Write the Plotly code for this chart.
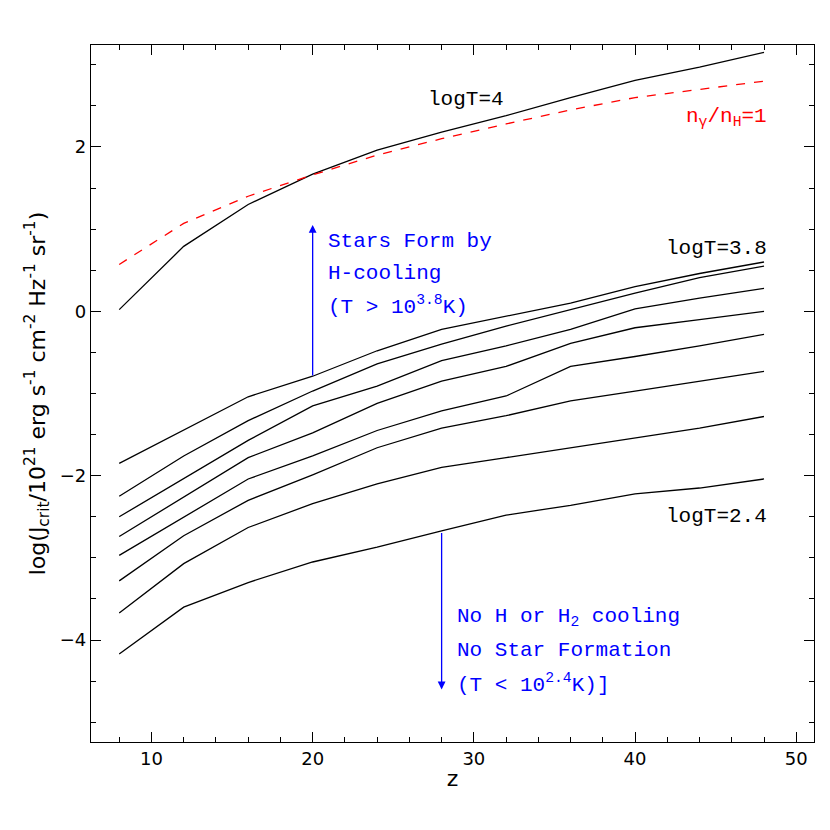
import plotly.graph_objects as go

z = [8, 12, 16, 20, 24, 28, 32, 36, 40, 44, 48]
logT4 = [0.02, 0.79, 1.30, 1.67, 1.96, 2.18, 2.38, 2.60, 2.81, 2.97, 3.15]
ratio1 = [0.57, 1.07, 1.40, 1.66, 1.90, 2.10, 2.28, 2.45, 2.60, 2.70, 2.80]
low_curves = [
    [-1.85, -1.45, -1.04, -0.79, -0.48, -0.22, -0.06, 0.10, 0.30, 0.46, 0.60],
    [-2.25, -1.76, -1.33, -0.97, -0.64, -0.40, -0.18, 0.02, 0.22, 0.41, 0.55],
    [-2.50, -2.03, -1.57, -1.15, -0.91, -0.60, -0.42, -0.22, 0.03, 0.16, 0.28],
    [-2.74, -2.26, -1.78, -1.48, -1.12, -0.85, -0.67, -0.39, -0.20, -0.10, 0.00],
    [-2.97, -2.50, -2.04, -1.76, -1.45, -1.21, -1.03, -0.67, -0.55, -0.42, -0.28],
    [-3.28, -2.73, -2.30, -1.99, -1.66, -1.42, -1.27, -1.09, -0.97, -0.85, -0.73],
    [-3.67, -3.07, -2.63, -2.34, -2.10, -1.90, -1.78, -1.66, -1.54, -1.42, -1.28],
    [-4.17, -3.60, -3.30, -3.05, -2.87, -2.67, -2.48, -2.36, -2.22, -2.15, -2.04],
]

fig = go.Figure()
fig.add_trace(go.Scatter(x=z, y=logT4, mode="lines", line=dict(color="black", width=1.3)))
fig.add_trace(go.Scatter(x=z, y=ratio1, mode="lines", line=dict(color="red", width=1.3, dash="dash")))
for c in low_curves:
    fig.add_trace(go.Scatter(x=z, y=c, mode="lines", line=dict(color="black", width=1.3)))

mono = "Liberation Mono"
def txt(x, y, s, color="black", anchor="left"):
    fig.add_annotation(x=x, y=y, text=s, showarrow=False, xanchor=anchor,
                       font=dict(family=mono, size=21, color=color))

txt(32, 2.58, "logT=4", anchor="right")
txt(48.3, 2.36, "n<sub>γ</sub>/n<sub>H</sub>=1", color="red", anchor="right")
txt(48.3, 0.77, "logT=3.8", anchor="right")
txt(48.3, -2.5, "logT=2.4", anchor="right")
txt(20.8, 0.85, "Stars Form by", color="blue")
txt(20.8, 0.46, "H-cooling", color="blue")
txt(20.8, 0.07, "(T > 10<sup>3.8</sup>K)", color="blue")
txt(28.8, -3.73, "No H or H<sub>2</sub> cooling", color="blue")
txt(28.8, -4.13, "No Star Formation", color="blue")
txt(28.8, -4.53, "(T < 10<sup>2.4</sup>K)]", color="blue")

fig.add_annotation(x=20, y=1.05, ax=20, ay=-0.8, xref="x", yref="y", axref="x", ayref="y",
                   showarrow=True, arrowhead=2, arrowsize=1.2, arrowwidth=1.3, arrowcolor="blue", text="")
fig.add_annotation(x=28, y=-4.6, ax=28, ay=-2.68, xref="x", yref="y", axref="x", ayref="y",
                   showarrow=True, arrowhead=2, arrowsize=1.2, arrowwidth=1.3, arrowcolor="blue", text="")

axcommon = dict(showgrid=False, zeroline=False, showline=True, linecolor="black", linewidth=1.3,
                mirror="ticks", ticks="inside", ticklen=10, tickcolor="black", automargin=False,
                tickfont=dict(family="DejaVu Sans", size=18, color="black"))
fig.update_xaxes(range=[6.25, 51.1], tickvals=[10, 20, 30, 40, 50],
                 minor=dict(dtick=2, ticks="inside", ticklen=5, tickcolor="black"),
                 title=dict(text="z", font=dict(family="DejaVu Sans", size=22, color="black"), standoff=2), **axcommon)
fig.update_yaxes(range=[-5.24, 3.24], tickvals=[-4, -2, 0, 2],
                 minor=dict(dtick=0.5, ticks="inside", ticklen=5, tickcolor="black"),
                 title=dict(text="log(J<sub>crit</sub>/10<sup>21</sup> erg s<sup>-1</sup> cm<sup>-2</sup> Hz<sup>-1</sup> sr<sup>-1</sup>)",
                            font=dict(family="DejaVu Sans", size=22, color="black"), standoff=8), **axcommon)
fig.update_layout(width=830, height=830, showlegend=False, plot_bgcolor="white", paper_bgcolor="white",
                  margin=dict(l=83, r=24, t=37, b=96))
fig.write_html("out.html")
